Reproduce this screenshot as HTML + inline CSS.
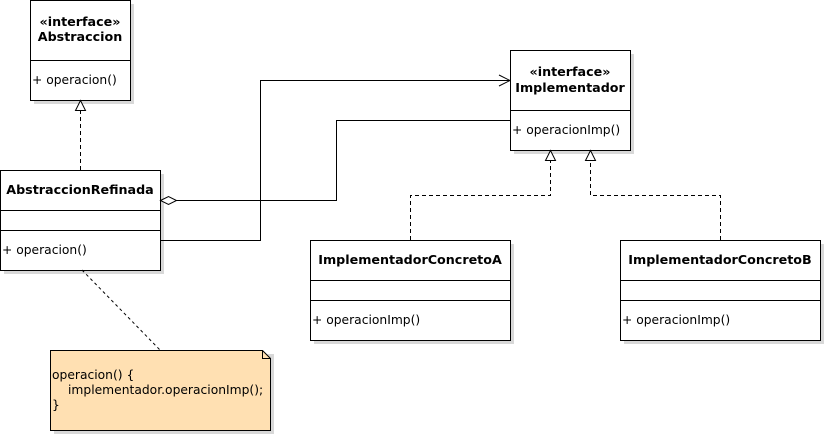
<!DOCTYPE html>
<html><head><meta charset="utf-8"><style>
body{margin:0;background:#fff;}
svg text{font-family:"DejaVu Sans",sans-serif;font-size:12.3px;fill:#000;}
svg text.b{font-weight:bold;font-size:12.7px;}
</style></head><body>
<svg width="825" height="435" xmlns="http://www.w3.org/2000/svg">
<g fill="#d8d8d8">
<rect x="34" y="4" width="100" height="100"/>
<rect x="4" y="174" width="160" height="100"/>
<rect x="514" y="54" width="120" height="100"/>
<rect x="314" y="244" width="200" height="100"/>
<rect x="624" y="244" width="200" height="100"/>
<polygon points="54,354 274,354 274,434 54,434"/>
</g>
<g fill="#fff" stroke="#000" stroke-width="1">
<rect x="30.5" y="0.5" width="100" height="100"/>
<line x1="30" y1="60.5" x2="130" y2="60.5"/>
<rect x="0.5" y="170.5" width="160" height="100"/>
<line x1="0" y1="210.5" x2="160" y2="210.5"/>
<line x1="0" y1="230.5" x2="160" y2="230.5"/>
<rect x="510.5" y="50.5" width="120" height="100"/>
<line x1="510" y1="110.5" x2="630" y2="110.5"/>
<rect x="310.5" y="240.5" width="200" height="100"/>
<line x1="310" y1="280.5" x2="510" y2="280.5"/>
<line x1="310" y1="300.5" x2="510" y2="300.5"/>
<rect x="620.5" y="240.5" width="200" height="100"/>
<line x1="620" y1="280.5" x2="820" y2="280.5"/>
<line x1="620" y1="300.5" x2="820" y2="300.5"/>
<polygon points="50.5,350.5 262.5,350.5 270.5,358.5 270.5,430.5 50.5,430.5" fill="#ffe0b2"/>
<polyline points="262.5,350.5 262.5,358.5 270.5,358.5" fill="none"/>
</g>
<g fill="none" stroke="#000" stroke-width="1">
<line x1="80.5" y1="110" x2="80.5" y2="170" stroke-dasharray="4,3"/>
<polygon points="80.5,100.5 75.5,110.5 85.5,110.5" fill="#fff"/>
<polygon points="160.5,200.5 168.5,196.5 176.5,200.5 168.5,204.5" fill="#fff"/>
<polyline points="176.5,200.5 336.5,200.5 336.5,120.5 510.5,120.5"/>
<polyline points="160.5,240.5 260.5,240.5 260.5,80.5 510.5,80.5"/>
<polyline points="499,75 510,80.5 499,86"/>
<polyline points="410.5,240 410.5,195.5 550.5,195.5 550.5,160" stroke-dasharray="4,3"/>
<polyline points="720.5,240 720.5,195.5 590.5,195.5 590.5,160" stroke-dasharray="4,3"/>
<polygon points="550.5,150.5 545.5,160.5 555.5,160.5" fill="#fff"/>
<polygon points="590.5,150.5 585.5,160.5 595.5,160.5" fill="#fff"/>
<line x1="82" y1="270" x2="160" y2="350" stroke-dasharray="3,3"/>
</g>
<text x="80" y="26" text-anchor="middle" class="b">«interface»</text>
<text x="80" y="41" text-anchor="middle" class="b">Abstraccion</text>
<text x="32" y="84">+ operacion()</text>
<text x="80" y="194" text-anchor="middle" class="b">AbstraccionRefinada</text>
<text x="2" y="254">+ operacion()</text>
<text x="570" y="76" text-anchor="middle" class="b">«interface»</text>
<text x="570" y="92" text-anchor="middle" class="b">Implementador</text>
<text x="512" y="134">+ operacionImp()</text>
<text x="410" y="264" text-anchor="middle" class="b">ImplementadorConcretoA</text>
<text x="312" y="324">+ operacionImp()</text>
<text x="720" y="264" text-anchor="middle" class="b">ImplementadorConcretoB</text>
<text x="622" y="324">+ operacionImp()</text>
<text x="52" y="379">operacion() {</text>
<text x="68" y="394">implementador.operacionImp();</text>
<text x="52" y="409">}</text>
</svg>
</body></html>
